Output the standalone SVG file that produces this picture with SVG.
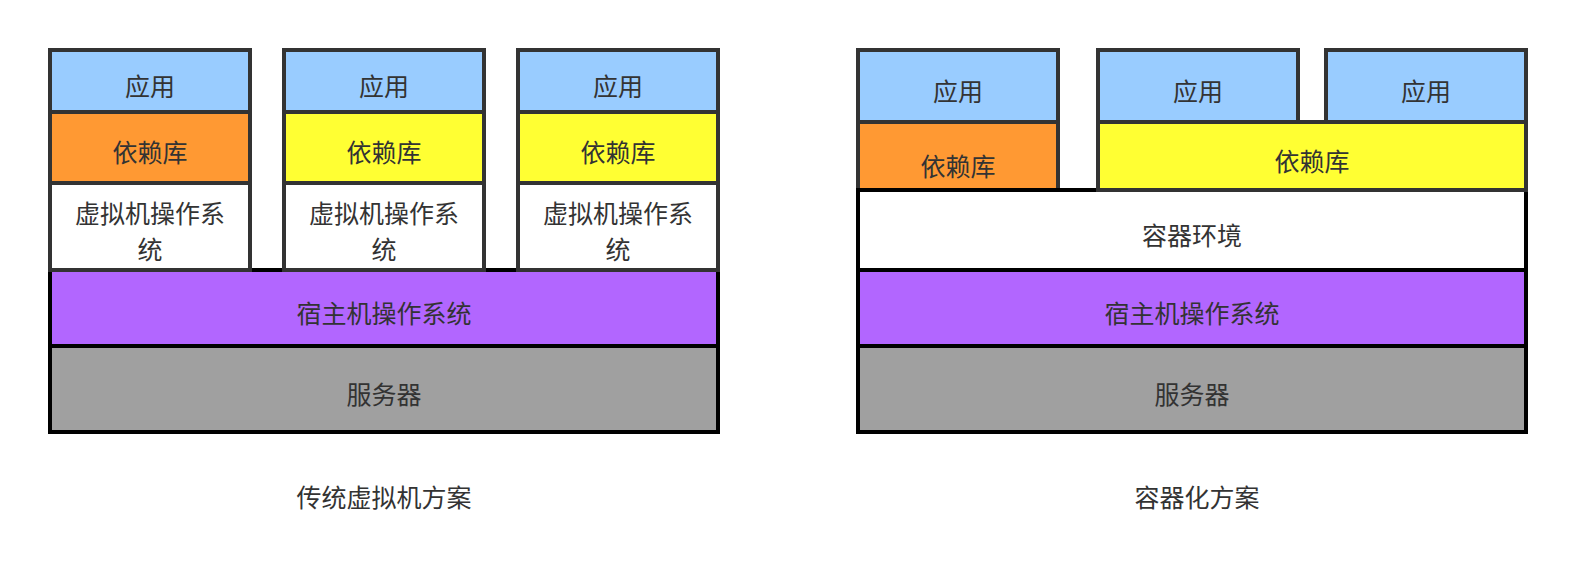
<svg xmlns="http://www.w3.org/2000/svg" width="1576" height="582" viewBox="0 0 1576 582">
<style>
  .box { stroke: #333333; stroke-width: 4; }
  .base { stroke: #000000; stroke-width: 4; }
  .app { fill: #99CCFF; }
  .dep-o { fill: #FF9933; }
  .dep-y { fill: #FFFF33; }
  .white { fill: #FFFFFF; }
  .host { fill: #B266FF; }
  .server { fill: #A0A0A0; }
  text { font-family: "Noto Sans CJK SC", "Noto Sans", sans-serif; font-size: 25px; fill: #333333; text-anchor: middle; dominant-baseline: central; }
</style>
<rect x="0" y="0" width="1576" height="582" fill="#FFFFFF"/>

<!-- Left: traditional VM -->
<g id="l-server"><rect class="base server" x="50" y="346" width="668" height="86"/><text x="384" y="393">服务器</text></g>
<g id="l-host"><rect class="base host" x="50" y="270" width="668" height="76"/><text x="384" y="312">宿主机操作系统</text></g>

<g id="l-vm1-os"><rect class="box white" x="50" y="183" width="200" height="87"/><text x="150" y="212">虚拟机操作系</text><text x="150" y="248">统</text></g>
<g id="l-vm1-dep"><rect class="box dep-o" x="50" y="112" width="200" height="71"/><text x="150" y="151">依赖库</text></g>
<g id="l-vm1-app"><rect class="box app" x="50" y="50" width="200" height="62"/><text x="150" y="85">应用</text></g>

<g id="l-vm2-os"><rect class="box white" x="284" y="183" width="200" height="87"/><text x="384" y="212">虚拟机操作系</text><text x="384" y="248">统</text></g>
<g id="l-vm2-dep"><rect class="box dep-y" x="284" y="112" width="200" height="71"/><text x="384" y="151">依赖库</text></g>
<g id="l-vm2-app"><rect class="box app" x="284" y="50" width="200" height="62"/><text x="384" y="85">应用</text></g>

<g id="l-vm3-os"><rect class="box white" x="518" y="183" width="200" height="87"/><text x="618" y="212">虚拟机操作系</text><text x="618" y="248">统</text></g>
<g id="l-vm3-dep"><rect class="box dep-y" x="518" y="112" width="200" height="71"/><text x="618" y="151">依赖库</text></g>
<g id="l-vm3-app"><rect class="box app" x="518" y="50" width="200" height="62"/><text x="618" y="85">应用</text></g>

<g id="l-caption"><text x="384" y="496">传统虚拟机方案</text></g>

<!-- Right: containers -->
<g id="r-server"><rect class="base server" x="858" y="346" width="668" height="86"/><text x="1192" y="393">服务器</text></g>
<g id="r-host"><rect class="base host" x="858" y="270" width="668" height="76"/><text x="1192" y="312">宿主机操作系统</text></g>
<g id="r-dep1"><rect class="box dep-o" x="858" y="122" width="200" height="68"/><text x="958" y="165">依赖库</text></g>
<g id="r-engine"><rect class="base white" x="858" y="190" width="668" height="80"/><text x="1192" y="234">容器环境</text></g>
<g id="r-dep2"><rect class="box dep-y" x="1098" y="122" width="428" height="68"/><text x="1312" y="160">依赖库</text></g>
<g id="r-app1"><rect class="box app" x="858" y="50" width="200" height="72"/><text x="958" y="90">应用</text></g>
<g id="r-app2"><rect class="box app" x="1098" y="50" width="200" height="72"/><text x="1198" y="90">应用</text></g>
<g id="r-app3"><rect class="box app" x="1326" y="50" width="200" height="72"/><text x="1426" y="90">应用</text></g>

<g id="r-caption"><text x="1197" y="496">容器化方案</text></g>

<g id="connectors"></g>
</svg>
